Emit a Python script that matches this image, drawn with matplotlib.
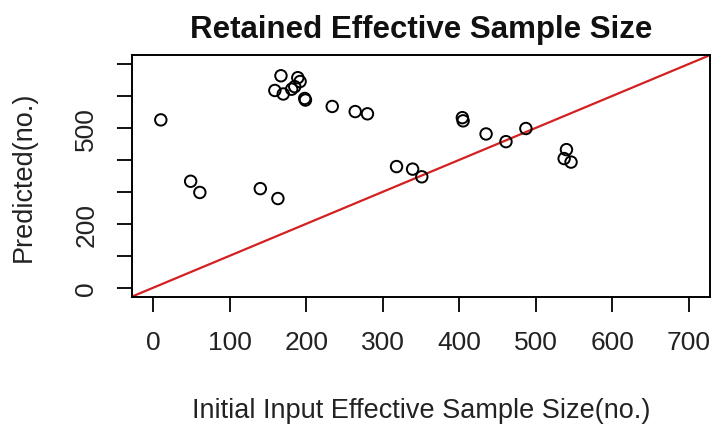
import matplotlib
matplotlib.use("Agg")
import matplotlib.pyplot as plt

plt.rcParams['font.family'] = ['Liberation Sans', 'DejaVu Sans']

# initial input ESS vs. predicted (retained) ESS
initial = [10, 49, 61, 140, 163, 159, 167, 170, 181, 185, 189, 192, 198, 199,
           234, 264, 280, 318, 339, 351, 404, 405, 435, 461, 487, 540, 537, 546]
predicted = [525, 333, 298, 310, 279, 617, 663, 606, 621, 629, 657, 645, 592, 587,
             567, 551, 544, 379, 371, 347, 532, 522, 481, 457, 498, 432, 404, 393]

x_ticks = [0, 100, 200, 300, 400, 500, 600, 700]
y_ticks = [0, 100, 200, 300, 400, 500, 600, 700]
y_labels = ['0', '', '200', '', '', '500', '', '']

fig = plt.figure(figsize=(7.17, 4.27), dpi=100)
ax = fig.add_axes([0.1837, 0.3028, 0.807, 0.5661])

ax.scatter(initial, predicted, s=68, facecolors='none', edgecolors='black',
           linewidths=1.4, zorder=3)
ax.axline((0, 0), slope=1, color='#d42020', linewidth=1.6, zorder=2)

# R style 4% padding around 0..700
ax.set_xlim(-28, 728)
ax.set_ylim(-28, 728)

ax.set_xticks(x_ticks)
ax.set_yticks(y_ticks)
ax.set_yticklabels(y_labels, rotation=90, va='center')
ax.tick_params(axis='both', direction='out', length=11, width=1.3,
               labelsize=19, pad=13, colors='black', labelcolor='#222222')

for sp in ax.spines.values():
    sp.set_linewidth(1.4)

ax.set_title('Retained Effective Sample Size', fontsize=22.5, fontweight='bold', pad=13,
             color='#111111')
ax.set_xlabel('Initial Input Effective Sample Size(no.)', fontsize=19.5, labelpad=31,
              color='#222222')
ax.set_ylabel('Predicted(no.)', fontsize=19.5, labelpad=27, color='#222222')

fig.savefig('out.png', dpi=100)
